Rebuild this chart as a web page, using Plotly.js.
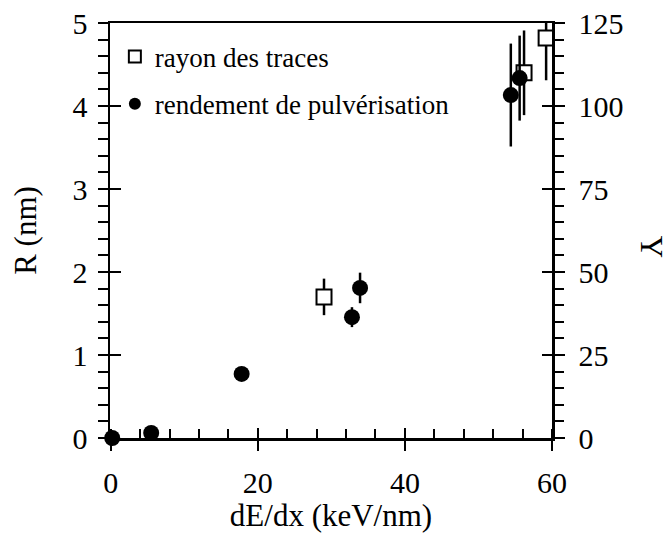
<!DOCTYPE html>
<html>
<head>
<meta charset="utf-8">
<script src="https://cdn.plot.ly/plotly-3.0.1.min.js"></script>
<style>
html,body{margin:0;padding:0;background:#fff;}
#chart{width:672px;height:543px;}
#chart svg text{font-family:'Liberation Serif', 'Times New Roman', serif !important;}
</style>
</head>
<body>
<div id="chart"></div>
<script>
// Rayon des traces (left axis, R in nm)
var rayonX = [29.0, 56.2, 59.2];
var rayonR = [1.70, 4.40, 4.82];
var rayonErrPlus = [0.22, 0.51, 0.34];
var rayonErrMinus = [0.22, 0.51, 0.51];

// Rendement de pulvérisation (right axis, Y)
var rendX = [0.2, 5.5, 17.8, 32.8, 33.9, 54.4, 55.6];
var rendY = [0, 1.5, 19.3, 36.4, 45.2, 103.3, 108.4];
var rendErr = [0, 0, 0, 3.0, 4.6, 15.5, 12.8];

var labelRayon = 'rayon des traces';
var labelRend = 'rendement de pulvérisation';
var xTitle = 'dE/dx (keV/nm)';
var yLeftTitle = 'R (nm)';
var yRightTitle = 'Y';

var FONT = 'Liberation Serif';

var traces = [
  {
    x: rayonX, y: rayonR, type: 'scatter', mode: 'markers', name: labelRayon,
    legendgroup: 'a', xaxis: 'x', yaxis: 'y', cliponaxis: false,
    marker: {symbol: 'square', size: 15, color: 'white', line: {color: 'black', width: 2}},
    error_y: {type: 'data', symmetric: false, array: rayonErrPlus, arrayminus: rayonErrMinus,
              color: 'black', thickness: 2.5, width: 0}
  },
  {
    x: rendX, y: rendY, type: 'scatter', mode: 'markers', name: labelRend,
    legendgroup: 'b', xaxis: 'x', yaxis: 'y2', cliponaxis: false,
    marker: {symbol: 'circle', size: 16, color: 'black', line: {width: 0}},
    error_y: {type: 'data', array: rendErr, color: 'black', thickness: 2.5, width: 0}
  },
  // helper traces so the tick-only overlay axes are drawn
  {x: [30], y: [2], xaxis: 'x2', yaxis: 'y3', mode: 'markers', marker: {opacity: 0}, showlegend: false, hoverinfo: 'skip'},
  {x: [30], y: [50], xaxis: 'x', yaxis: 'y4', mode: 'markers', marker: {opacity: 0}, showlegend: false, hoverinfo: 'skip'}
];

var tickFont = {family: FONT, size: 30, color: 'black'};

var layout = {
  width: 672, height: 543,
  margin: {l: 110, r: 120, t: 23, b: 105, pad: 0},
  paper_bgcolor: 'white', plot_bgcolor: 'white',
  font: {family: FONT, color: 'black'},
  showlegend: true,
  legend: {x: 0.011, y: 0.977, xanchor: 'left', yanchor: 'top', bgcolor: 'rgba(0,0,0,0)',
           font: {family: FONT, size: 27, color: 'black'}, traceorder: 'grouped',
           tracegroupgap: 9, itemsizing: 'constant', itemwidth: 30},
  xaxis: {
    range: [-0.1, 60], dtick: 20, tick0: 0, showgrid: false, zeroline: false,
    showline: true, linecolor: 'black', linewidth: 2.5, mirror: true,
    ticks: 'outside', ticklen: 10, tickwidth: 2, tickcolor: 'black',
    minor: {dtick: 4, tick0: 0, ticks: 'inside', ticklen: 9, tickwidth: 2, tickcolor: 'black', showgrid: false},
    tickfont: tickFont, ticklabelstandoff: 6,
    title: {text: xTitle, font: {family: FONT, size: 31, color: 'black'}, standoff: 6}
  },
  xaxis2: {
    overlaying: 'x', anchor: 'y', side: 'bottom', range: [-0.1, 60], dtick: 20, tick0: 0,
    showgrid: false, zeroline: false, showline: false, showticklabels: false,
    ticks: 'inside', ticklen: 10, tickwidth: 2, tickcolor: 'black'
  },
  yaxis: {
    range: [0, 5], dtick: 1, tick0: 0, showgrid: false, zeroline: false,
    showline: true, linecolor: 'black', linewidth: 2.5,
    ticks: 'outside', ticklen: 10, tickwidth: 2, tickcolor: 'black',
    minor: {dtick: 0.2, tick0: 0, ticks: 'outside', ticklen: 10, tickwidth: 2, tickcolor: 'black', showgrid: false},
    tickfont: tickFont, ticklabelstandoff: 4,
    title: {text: yLeftTitle, font: {family: FONT, size: 31, color: 'black'}, standoff: 27}
  },
  yaxis2: {
    overlaying: 'y', side: 'right', anchor: 'x', range: [0, 125], dtick: 25, tick0: 0,
    showgrid: false, zeroline: false, showline: true, linecolor: 'black', linewidth: 2.5,
    ticks: 'outside', ticklen: 10, tickwidth: 2, tickcolor: 'black',
    minor: {dtick: 5, tick0: 0, ticks: 'outside', ticklen: 9, tickwidth: 2, tickcolor: 'black', showgrid: false},
    tickfont: tickFont, ticklabelstandoff: 8
  },
  yaxis3: {
    overlaying: 'y', side: 'left', anchor: 'x', range: [0, 5], dtick: 1, tick0: 0,
    showgrid: false, zeroline: false, showline: false, showticklabels: false,
    ticks: 'inside', ticklen: 11, tickwidth: 2, tickcolor: 'black'
  },
  yaxis4: {
    overlaying: 'y', side: 'right', anchor: 'x', range: [0, 125], dtick: 25, tick0: 0,
    showgrid: false, zeroline: false, showline: false, showticklabels: false,
    ticks: 'inside', ticklen: 10, tickwidth: 2, tickcolor: 'black'
  },
  annotations: [
    {text: yRightTitle, xref: 'paper', yref: 'paper', x: 1.225, y: 0.46, showarrow: false,
     textangle: 90, font: {family: FONT, size: 31, color: 'black'}, xanchor: 'center', yanchor: 'middle'}
  ]
};

Plotly.newPlot('chart', traces, layout, {displayModeBar: false, staticPlot: true});
</script>
</body>
</html>
